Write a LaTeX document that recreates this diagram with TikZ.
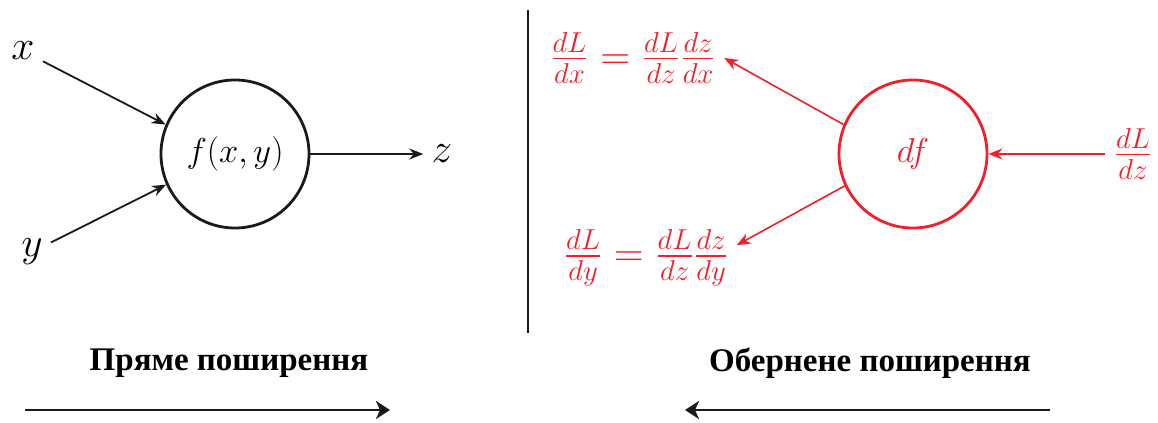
\documentclass[tikz,border=0pt]{standalone}
\usepackage{amsmath}
\usepackage[no-math]{fontspec}
\usepackage{xcolor}
\usepackage{tikz}
\usetikzlibrary{arrows.meta,positioning}
\newfontfamily\headingSerif{Liberation Serif}
\definecolor{graphInk}{HTML}{1A1A1A}
\definecolor{gradRed}{HTML}{F0202A}
\tikzset{
  unit/.style={
    circle,
    draw=graphInk,
    line width=1.4pt,
    minimum size=74pt,
    inner sep=0pt,
    font=\fontsize{17.5}{21}\selectfont
  },
  gradUnit/.style={
    unit,
    draw=gradRed,
    text=gradRed
  },
  varLabel/.style={
    inner sep=4pt,
    font=\fontsize{20.5}{24}\selectfont
  },
  gradLabel/.style={
    inner sep=4pt,
    text=gradRed,
    font=\fontsize{19.5}{23}\selectfont
  },
  heading/.style={
    inner sep=2pt,
    font=\headingSerif\bfseries\fontsize{16.5}{20}\selectfont
  },
  arrow/.style={
    -{Stealth[length=7pt,width=5.5pt]},
    line width=0.9pt,
    draw=graphInk
  },
  gradArrow/.style={
    arrow,
    draw=gradRed,
    line width=0.8pt
  },
  passArrow/.style={
    -{Stealth[length=7pt,width=9pt,inset=2pt]},
    line width=1.4pt,
    draw=graphInk
  }
}

\begin{document}
\begin{tikzpicture}[x=0.5pt,y=-0.5pt]
  \useasboundingbox (0,0) rectangle (1158,423);
  % forward pass
  \node[unit] (fxy) at (235,154) {$f(x,y)$};
  \node[varLabel] (xIn) at (23,51) {$x$};
  \node[varLabel] (yIn) at (32,252) {$y$};
  \node[varLabel] (zOut) at (442,154) {$z$};
  \draw[arrow] (xIn) -- (fxy.157);
  \draw[arrow] (yIn) -- (fxy.204);
  \draw[arrow] (fxy) -- (zOut);
  % divider
  \coordinate (divTop) at (528,10);
  \coordinate (divBottom) at (528,333);
  \draw[line width=1.4pt,draw=graphInk] (divTop) -- (divBottom);
  % backward pass
  \node[gradUnit] (dfNode) at (913,154) {$df$};
  \node[gradLabel] (dLdx) at (633,58) {$\frac{dL}{dx} = \frac{dL}{dz}\frac{dz}{dx}$};
  \node[gradLabel] (dLdy) at (646,258) {$\frac{dL}{dy} = \frac{dL}{dz}\frac{dz}{dy}$};
  \node[gradLabel] (dLdz) at (1133,154) {$\frac{dL}{dz}$};
  \draw[gradArrow] (dLdz) -- (dfNode);
  \draw[gradArrow] (dfNode.157) -- (dLdx.east);
  \draw[gradArrow] (dfNode.205) -- (dLdy.8);
  % pass directions
  \node[heading] (fwdTitle) at (229,363) {Пряме поширення};
  \node[heading] (bwdTitle) at (870,363) {Обернене поширення};
  \coordinate (fwdStart) at (25,410);
  \coordinate (fwdEnd) at (390,410);
  \coordinate (bwdStart) at (1050,410);
  \coordinate (bwdEnd) at (685,410);
  \draw[passArrow] (fwdStart) -- (fwdEnd);
  \draw[passArrow] (bwdStart) -- (bwdEnd);
\end{tikzpicture}
\end{document}
